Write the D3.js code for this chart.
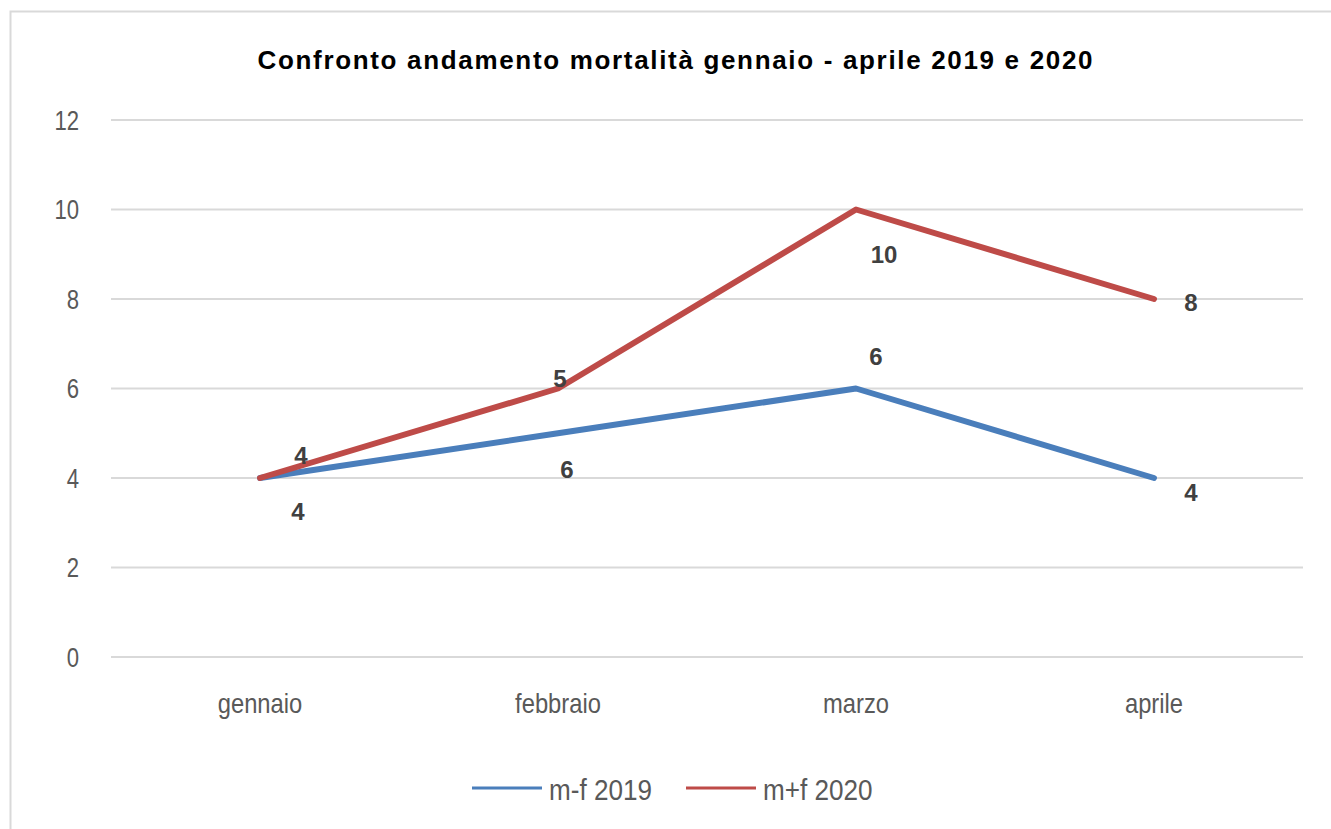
<!DOCTYPE html>
<html>
<head>
<meta charset="utf-8">
<script src="https://cdnjs.cloudflare.com/ajax/libs/d3/7.8.5/d3.min.js"></script>
<style>
  body { margin: 0; background: #fff; }
  svg { display: block; }
  text { font-family: "Liberation Sans", Arial, sans-serif; }
</style>
</head>
<body>
<svg width="1331" height="829"></svg>
<script>
// data
var months = ["gennaio", "febbraio", "marzo", "aprile"];
var values2019 = [4, 5, 6, 4];
var values2020 = [4, 6, 10, 8];
// data labels as printed on the chart
var labels2019 = [4, 6, 6, 4];
var labels2020 = [4, 5, 10, 8];
var yTicks = [0, 2, 4, 6, 8, 10, 12];
var seriesNames = ["m-f 2019", "m+f 2020"];

var svg = d3.select("svg"),
  margin = {top: 120, left: 111, right: 28, bottom: 172};

var width = 1331 - margin.left - margin.right,
  height = 829 - margin.top - margin.bottom;

// chart border
svg.append("rect")
  .attr("x", 10.5).attr("y", 11.5)
  .attr("width", 1400).attr("height", 900)
  .attr("fill", "none").attr("stroke", "#d9d9d9").attr("stroke-width", 2);

var x = d3.scaleBand().domain(months).range([0, width]);
var y = d3.scaleLinear().domain([0, 12]).range([height, 0]);

var g = svg.append("g")
  .attr("transform", "translate(" + margin.left + "," + margin.top + ")");

// gridlines
g.append("g").selectAll("line").data(yTicks).enter().append("line")
  .attr("x1", 0).attr("x2", width)
  .attr("y1", function(d) { return y(d); })
  .attr("y2", function(d) { return y(d); })
  .attr("stroke", "#d9d9d9").attr("stroke-width", 2);

// y axis (narrow-looking labels: squeeze horizontally)
var ySqueeze = 0.82;
var yAxis = g.append("g")
  .call(d3.axisLeft(y).tickValues(yTicks).tickSize(0));
yAxis.select(".domain").remove();
yAxis.selectAll("text")
  .attr("x", -32 / ySqueeze)
  .attr("dy", "0.35em")
  .attr("transform", "scale(" + ySqueeze + ",1)")
  .style("font-size", "27px").attr("fill", "#595959");

// x axis
var xSqueeze = 0.88;
var xAxis = g.append("g")
  .attr("transform", "translate(0," + height + ")")
  .call(d3.axisBottom(x).tickSize(0));
xAxis.select(".domain").remove();
xAxis.selectAll("text")
  .attr("y", 56).attr("dy", 0)
  .attr("transform", "scale(" + xSqueeze + ",1)")
  .style("font-size", "27px").attr("fill", "#595959");

var cx = function(d, i) { return x(months[i]) + x.bandwidth() / 2; };

var series = [
  {values: values2019, labels: labels2019, color: "#4a7ebb",
   off: [[38, 33], [9, 36], [20, -32], [37, 14]]},
  {values: values2020, labels: labels2020, color: "#be4b48",
   off: [[41, -23], [2, -10], [28, 45], [37, 3]]}
];

var line = d3.line()
  .x(function(d, i) { return cx(d, i); })
  .y(function(d) { return y(d); });

series.forEach(function(s) {
  g.append("path")
    .datum(s.values)
    .attr("d", line)
    .attr("fill", "none")
    .attr("stroke", s.color)
    .attr("stroke-width", 6)
    .attr("stroke-linejoin", "round")
    .attr("stroke-linecap", "round");
});

series.forEach(function(s) {
  g.append("g").selectAll("text").data(s.values).enter().append("text")
    .attr("x", function(d, i) { return cx(d, i) + s.off[i][0]; })
    .attr("y", function(d, i) { return y(d) + s.off[i][1]; })
    .attr("text-anchor", "middle")
    .attr("dy", "0.36em")
    .style("font-weight", "bold")
    .style("font-size", "24px")
    .attr("fill", "#404040")
    .text(function(d, i) { return s.labels[i]; });
});

// title
svg.append("text")
  .attr("x", 675).attr("y", 69)
  .attr("text-anchor", "middle")
  .attr("textLength", 835)
  .attr("lengthAdjust", "spacing")
  .style("font-weight", "bold")
  .style("font-size", "26px")
  .attr("fill", "#000")
  .text("Confronto andamento mortalità gennaio - aprile 2019 e 2020");

// legend
var legendX = [472, 686];
var legSqueeze = 0.9;
series.forEach(function(s, i) {
  var lg = svg.append("g").attr("transform", "translate(" + legendX[i] + ",788)");
  lg.append("line")
    .attr("x1", 0).attr("x2", 70)
    .attr("stroke", s.color).attr("stroke-width", 3);
  lg.append("text")
    .attr("x", 77 / legSqueeze).attr("y", 12)
    .attr("transform", "scale(" + legSqueeze + ",1)")
    .style("font-size", "29px").attr("fill", "#595959")
    .text(seriesNames[i]);
});
</script>
</body>
</html>
